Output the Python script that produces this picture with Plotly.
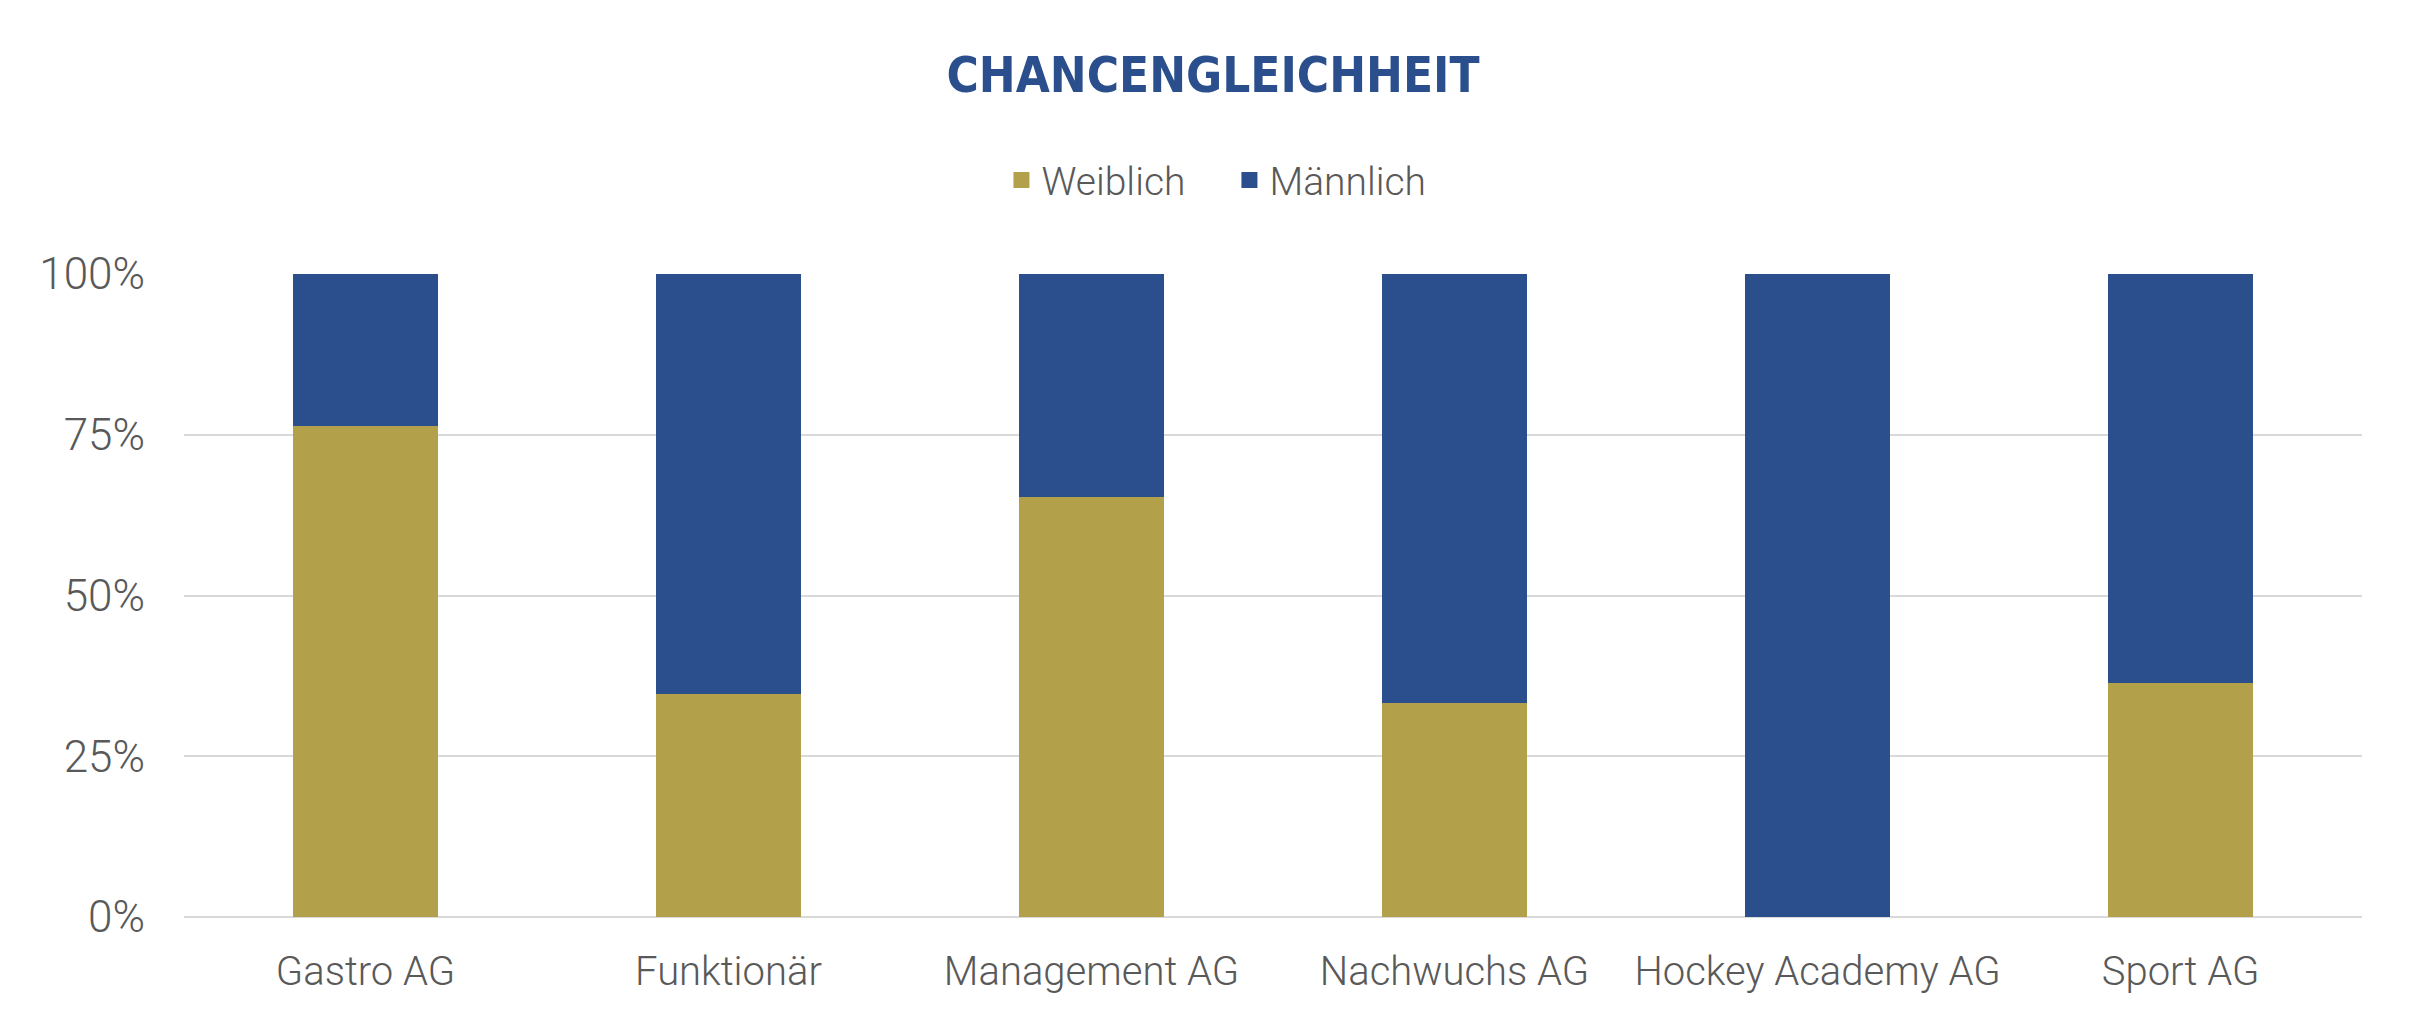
import plotly.graph_objects as go

categories = ["Gastro AG", "Funktionär", "Management AG", "Nachwuchs AG", "Hockey Academy AG", "Sport AG"]
weiblich = [76.3, 34.7, 65.3, 33.3, 0.0, 36.4]
maennlich = [23.7, 65.3, 34.7, 66.7, 100.0, 63.6]
y_ticks = [0, 25, 50, 75, 100]
y_ticktext = [f"{v}%" for v in y_ticks]

GOLD = "#B3A04B"
BLUE = "#2B4F8C"
TXT = "#595959"

fig = go.Figure()
fig.add_trace(go.Bar(x=categories, y=weiblich, name="Weiblich", marker_color=GOLD,
                     marker_line_width=0, showlegend=False, legendgroup="w"))
fig.add_trace(go.Bar(x=categories, y=maennlich, name="Männlich", marker_color=BLUE,
                     marker_line_width=0, showlegend=False, legendgroup="m"))
# legend swatches (bigger squares than the default bar icon)
for name, col, grp in [("Weiblich", GOLD, "w"), ("Männlich", BLUE, "m")]:
    fig.add_trace(go.Scatter(x=[None], y=[None], mode="markers", name=name, legendgroup=grp,
                             marker=dict(symbol="square", size=25, color=col)))

fig.update_layout(
    width=2410, height=1026,
    barmode="stack", bargap=0.6,
    plot_bgcolor="white", paper_bgcolor="white",
    margin=dict(l=176, r=56, t=266, b=117, autoexpand=False),
    title=dict(text="<b>CHANCENGLEICHHEIT</b>", xref="container", x=0.5, xanchor="center",
               y=0.935, yanchor="middle",
               font=dict(family="DejaVu Sans Condensed", size=49, color=BLUE)),
    legend=dict(orientation="h", x=0.480, xanchor="center",
                y=1.146, yanchor="middle",
                font=dict(family="Roboto", size=39, color=TXT, weight=300),
                itemwidth=30, entrywidth=183, entrywidthmode="pixels",
                traceorder="normal"),
    font=dict(family="Roboto", color=TXT),
)
fig.update_yaxes(range=[0, 100], tickvals=y_ticks, ticktext=y_ticktext, showgrid=True,
                 gridcolor="#D9D9D9", gridwidth=2, zeroline=True, zerolinecolor="#D9D9D9",
                 zerolinewidth=2, showline=False, ticklabelstandoff=38,
                 tickfont=dict(family="Roboto", size=44, color=TXT, weight=300))
fig.update_xaxes(showline=False, tickangle=0, type="category",
                 tickfont=dict(family="Roboto", size=40, color=TXT, weight=300),
                 ticklabelstandoff=27)

fig.write_html("out.html")
